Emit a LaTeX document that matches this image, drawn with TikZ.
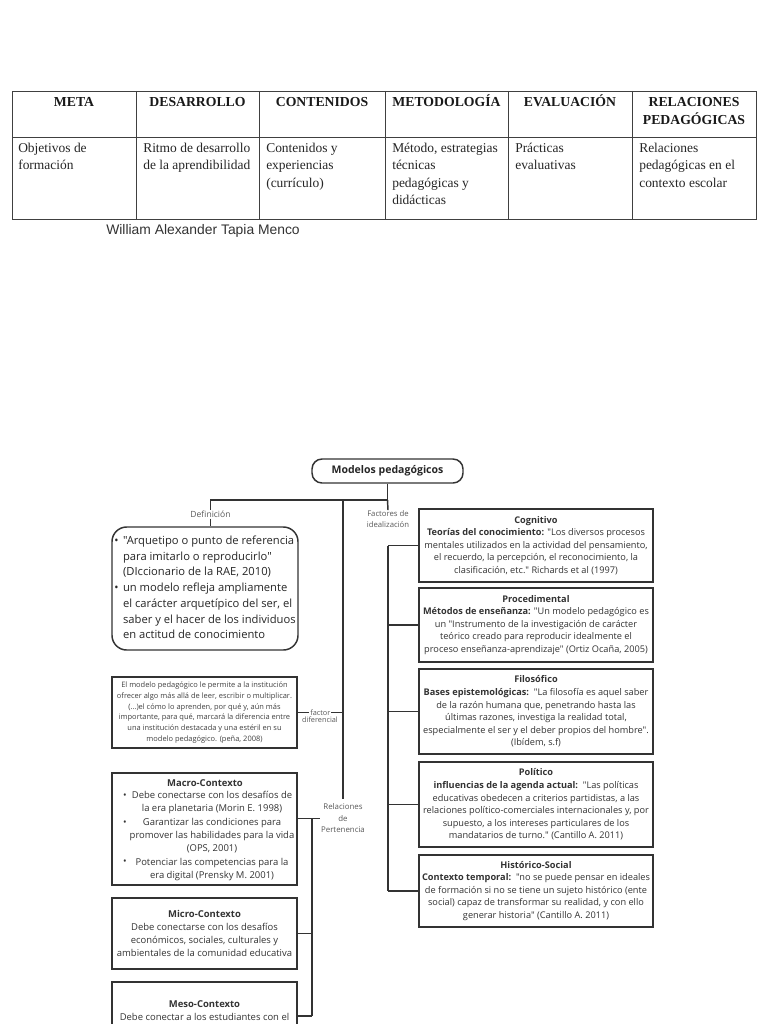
\documentclass[tikz,border=0pt]{standalone}
\usepackage{fontspec}
\setmainfont{Liberation Serif}
\newfontfamily\osans{Open Sans}
\newfontfamily\lsans{Liberation Sans}
\newcommand\cellt[1]{\begin{tabular}[t]{@{}l@{}}#1\end{tabular}}
\newcommand\cellc[1]{\begin{tabular}[t]{@{}c@{}}#1\end{tabular}}
\begin{document}
\begin{tikzpicture}[x=0.75pt,y=-0.75pt,
 tline/.style={line width=0.7pt, draw=black!75},
 cnx/.style={line width=1.1pt, draw=black!80},
 hdr/.style={anchor=base, inner sep=0pt, font=\bfseries\fontsize{10.3}{13.7}\selectfont, text=black!90},
 cell/.style={anchor=base west, inner sep=0pt, font=\fontsize{10.1}{13.2}\selectfont, text=black!85},
 boxr/.style={draw=black!80, line width=1pt, minimum width=175.5pt, align=center, inner sep=0pt, text=black!80, font=\osans\fontsize{6.9}{9.4}\selectfont},
 boxl/.style={draw=black!80, line width=1pt, minimum width=138.75pt, align=center, inner sep=0pt, text=black!80, font=\osans\fontsize{7.1}{9.75}\selectfont},
 ltxt/.style={inner sep=0pt, align=center, text=black!80, font=\osans\fontsize{7.1}{10}\selectfont},
 lbl/.style={inner sep=0.5pt, align=center, text=black!65},
]
\useasboundingbox (0,0) rectangle (768,1024);
\clip (0,0) rectangle (768,1024);
\fill[white] (0,0) rectangle (768,1024);

% ---------------- table ----------------
\draw[tline] (12,91) rectangle (756,219);
\draw[tline] (12,137) -- (756,137);
\foreach \x in {136,259,385,508,632} \draw[tline] (\x,91) -- (\x,219);

\node[hdr] (h1) at (74,106) {META};
\node[hdr] (h2) at (197.5,106) {DESARROLLO};
\node[hdr] (h3) at (322,106) {CONTENIDOS};
\node[hdr] (h4) at (446.5,106) {METODOLOGÍA};
\node[hdr] (h5) at (570,106) {EVALUACIÓN};
\node[hdr] (h6) at (694,106) {\cellc{RELACIONES\\PEDAGÓGICAS}};

\node[cell] (c1) at (18,152) {\cellt{Objetivos de\\formación}};
\node[cell] (c2) at (143,152) {\cellt{Ritmo de desarrollo\\de la aprendibilidad}};
\node[cell] (c3) at (266,152) {\cellt{Contenidos y\\experiencias\\(currículo)}};
\node[cell] (c4) at (392,152) {\cellt{Método, estrategias\\técnicas\\pedagógicas y\\didácticas}};
\node[cell] (c5) at (515,152) {\cellt{Prácticas\\evaluativas}};
\node[cell] (c6) at (639,152) {\cellt{Relaciones\\pedagógicas en el\\contexto escolar}};

\node[anchor=base west, inner sep=0pt, font=\lsans\fontsize{10.4}{12}\selectfont, text=black!80] (author) at (106,234) {William Alexander Tapia Menco};

% ---------------- diagram ----------------
\node[draw=black!80, line width=1.1pt, rounded corners=7.5pt, minimum width=113.25pt, minimum height=18pt, inner sep=0pt, font=\osans\bfseries\fontsize{7.9}{9}\selectfont, text=black!85] (title) at (387.5,471) {Modelos pedagógicos};

\node[lbl, font=\osans\fontsize{6.4}{8}\selectfont] (deflab) at (210.5,514.5) {Definición};
\node[lbl, font=\osans\fontsize{5.8}{8.2}\selectfont] (factlab) at (388,519.5) {Factores de\\idealización};

\node[draw=black!80, line width=1.1pt, rounded corners=11pt, minimum width=139.5pt, minimum height=92.25pt, inner sep=0pt, text=black!85, font=\osans\fontsize{8.4}{11.8}\selectfont] (def) at (205,588.5) {\begin{tabular}{@{}l@{\hspace{3.4pt}}l@{}}
\textbullet & "Arquetipo o punto de referencia\\
 & para imitarlo o reproducirlo"\\
 & (DIccionario de la RAE, 2010)\\
\textbullet & un modelo refleja ampliamente\\
 & el carácter arquetípico del ser, el\\
 & saber y el hacer de los individuos\\
 & en actitud de conocimiento
\end{tabular}};

\node[boxl, minimum height=53.25pt, text=black!75, font=\osans\fontsize{5.6}{8.1}\selectfont] (box2) at (204.5,712.5) {El modelo pedagógico le permite a la institución\\ofrecer algo más allá de leer, escribir o multiplicar.\\(…)el cómo lo aprenden, por qué y, aún más\\importante, para qué, marcará la diferencia entre\\una institución destacada y una estéril en su\\modelo pedagógico. (peña, 2008)};

\node[boxl, minimum height=84pt] (macro) at (204.5,829) {};
\node[ltxt, font=\osans\bfseries\fontsize{7.1}{10}\selectfont] (macrot) at (205,783) {Macro-Contexto};
\node[ltxt] (macrob) at (212,836) {Debe conectarse con los desafíos de\\la era planetaria (Morin E. 1998)\\Garantizar las condiciones para\\promover las habilidades para la vida\\(OPS, 2001)\\Potenciar las competencias para la\\era digital (Prensky M. 2001)};
\node[ltxt] (b1) at (125,796) {\textbullet};
\node[ltxt] (b2) at (125,823) {\textbullet};
\node[ltxt] (b3) at (125,862) {\textbullet};

\node[boxl, minimum height=53.25pt] (micro) at (204.5,933.5) {\textbf{Micro-Contexto}\\Debe conectarse con los desafíos\\económicos, sociales, culturales y\\ambientales de la comunidad educativa};

\node[boxl, minimum height=75pt] (meso) at (204.5,1032) {};
\node[ltxt, font=\osans\bfseries\fontsize{7.1}{10}\selectfont] (mesot) at (204.5,1004) {Meso-Contexto};
\node[ltxt] (mesob) at (204.5,1017) {Debe conectar a los estudiantes con el};

\node[boxr, minimum height=54.75pt] (cog) at (536,545.5) {\textbf{Cognitivo}\\\textbf{Teorías del conocimiento:} "Los diversos procesos\\mentales utilizados en la actividad del pensamiento,\\el recuerdo, la percepción, el reconocimiento, la\\clasificación, etc." Richards et al (1997)};
\node[boxr, minimum height=55.5pt] (proc) at (536,625) {\textbf{Procedimental}\\\textbf{Métodos de enseñanza:} "Un modelo pedagógico es\\un "Instrumento de la investigación de carácter\\teórico creado para reproducir idealmente el\\proceso enseñanza-aprendizaje" (Ortiz Ocaña, 2005)};
\node[boxr, minimum height=63.75pt] (filo) at (536,711.5) {\textbf{Filosófico}\\\textbf{Bases epistemológicas:}\ \ "La filosofía es aquel saber\\de la razón humana que, penetrando hasta las\\últimas razones, investiga la realidad total,\\especialmente el ser y el deber propios del hombre".\\(Ibídem, s.f)};
\node[boxr, minimum height=63.75pt] (pol) at (536,804.5) {\textbf{Político}\\\textbf{influencias de la agenda actual:}\ \ "Las políticas\\educativas obedecen a criterios partidistas, a las\\relaciones político-comerciales internacionales y, por\\supuesto, a los intereses particulares de los\\mandatarios de turno." (Cantillo A. 2011)};
\node[boxr, minimum height=54pt] (hist) at (536,891) {\textbf{Histórico-Social}\\\textbf{Contexto temporal:}\ \ "no se puede pensar en ideales\\de formación si no se tiene un sujeto histórico (ente\\social) capaz de transformar su realidad, y con ello\\generar historia" (Cantillo A. 2011)};

\node[lbl, inner xsep=0.5pt, inner ysep=3.5pt, font=\osans\fontsize{5.9}{8.6}\selectfont] (relab) at (343,818.5) {Relaciones\\de\\Pertenencia};

% connectors
\coordinate (jt) at (387.5,500);
\coordinate (jl) at (210.5,500);
\coordinate (jm) at (343,500);
\coordinate (rx) at (388,0);
\coordinate (lx) at (312,0);
\coordinate (mesoy) at (0,1016);

\draw[cnx] (title.south) -- (jt) -- (jl) -- (deflab.north);
\draw[cnx] (deflab.south) -- (deflab.south |- def.north);
\draw[cnx] (jt) -- (factlab.north);
\draw[cnx] (rx |- cog.west) -- (rx |- hist.west);
\foreach \n in {cog,proc,filo,pol,hist} \draw[cnx] (rx |- \n.west) -- (\n.west);

\draw[cnx] (jm) -- (relab.north);
\draw[cnx] (box2.east) -- node[fill=white, inner sep=0.8pt, text=black!65, font=\osans\fontsize{5.5}{7}\selectfont] (fdlab) {factor} (box2.east -| jm);
\node[lbl, font=\osans\fontsize{5.5}{7}\selectfont] (fdlab2) at (320,719.5) {diferencial};

\draw[cnx] (relab.west -| macro.east) -- (relab.west);
\draw[cnx] (lx |- relab.west) -- (lx |- mesoy);
\draw[cnx] (lx |- micro.east) -- (micro.east);
\draw[cnx] (lx |- mesoy) -- (meso.east |- mesoy);
\end{tikzpicture}
\end{document}
